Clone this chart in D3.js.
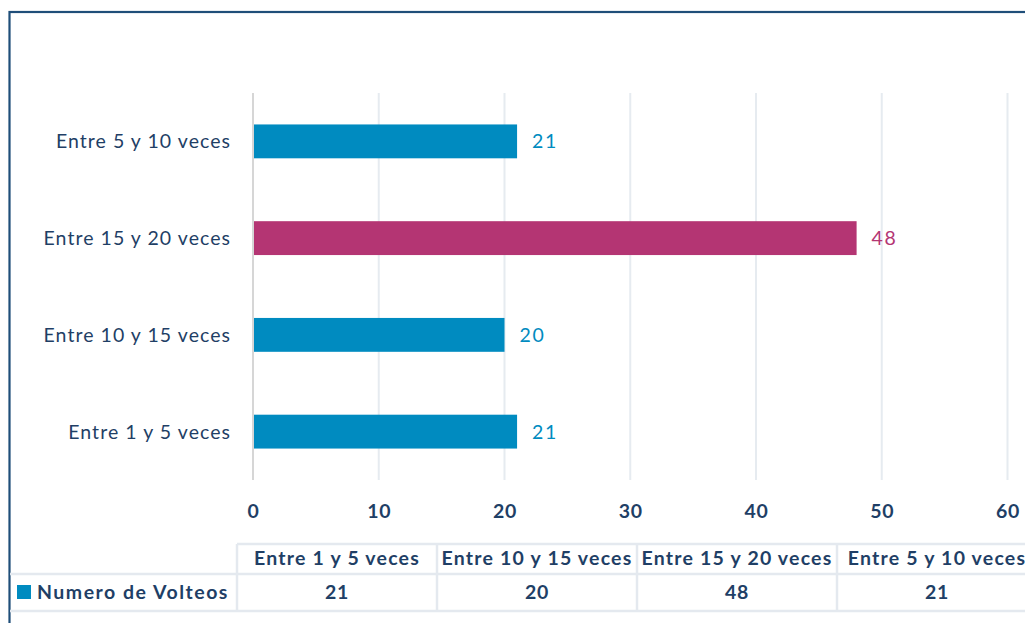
<!DOCTYPE html>
<html>
<head>
<meta charset="utf-8">
<script src="https://cdn.jsdelivr.net/npm/d3@7"></script>
<style>
  html, body { margin: 0; padding: 0; background: #fff; }
  svg { display: block; }
  text { font-family: Lato, "Open Sans", sans-serif; }
</style>
</head>
<body>
<svg id="chart" width="1025" height="623"></svg>
<script>
// Categories as drawn top-to-bottom on the bar chart
const categories = ["Entre 5 y 10 veces", "Entre 15 y 20 veces", "Entre 10 y 15 veces", "Entre 1 y 5 veces"];
const values = [21, 48, 20, 21];
// Order used by the data table under the chart
const tableCategories = ["Entre 1 y 5 veces", "Entre 10 y 15 veces", "Entre 15 y 20 veces", "Entre 5 y 10 veces"];
const seriesName = "Numero de Volteos";
const xTicks = [0, 10, 20, 30, 40, 50, 60];
const highlight = "Entre 15 y 20 veces";

const BLUE = "#008bc0", MAGENTA = "#b43573", NAVY = "#1f3f66";
const GRID = "#e6ebf0", TABLE_LINE = "#e4e9ef";

const svg = d3.select("#chart");
const valueOf = new Map(categories.map((c, i) => [c, values[i]]));

// Outer frame
svg.append("rect")
  .attr("x", 9.5).attr("y", 12)
  .attr("width", 1040).attr("height", 640)
  .attr("fill", "none").attr("stroke", "#1f4e79").attr("stroke-width", 2.2);

const x = d3.scaleLinear().domain([0, 60]).range([253, 1007.5]);
const y = d3.scaleBand().domain(categories).range([93, 480])
  .paddingInner(0.65).paddingOuter(0.325);

// Vertical gridlines
svg.append("g").selectAll("line").data(xTicks.filter(t => t > 0)).join("line")
  .attr("x1", d => x(d)).attr("x2", d => x(d))
  .attr("y1", 93).attr("y2", 480)
  .attr("stroke", GRID).attr("stroke-width", 2);

// Category axis line
svg.append("line")
  .attr("x1", x(0)).attr("x2", x(0)).attr("y1", 93).attr("y2", 480)
  .attr("stroke", "#d6d6d6").attr("stroke-width", 2);

// Bars
svg.append("g").selectAll("rect").data(categories).join("rect")
  .attr("x", x(0) + 1)
  .attr("y", d => y(d))
  .attr("width", d => x(valueOf.get(d)) - x(0) - 1)
  .attr("height", y.bandwidth())
  .attr("fill", d => d === highlight ? MAGENTA : BLUE);

// Value labels
svg.append("g").selectAll("text").data(categories).join("text")
  .attr("x", d => x(valueOf.get(d)) + 15)
  .attr("y", d => y(d) + y.bandwidth() / 2)
  .attr("dy", "0.36em")
  .attr("font-size", 19.5)
  .attr("letter-spacing", 1.6)
  .attr("fill", d => d === highlight ? MAGENTA : BLUE)
  .text(d => valueOf.get(d));

// Category labels
svg.append("g").selectAll("text").data(categories).join("text")
  .attr("x", 231)
  .attr("y", d => y(d) + y.bandwidth() / 2)
  .attr("dy", "0.36em")
  .attr("text-anchor", "end")
  .attr("font-size", 19.5)
  .attr("letter-spacing", 1.05)
  .attr("fill", NAVY)
  .text(d => d);

// Value axis labels
const xAxis = svg.append("g").attr("transform", "translate(0,511)")
  .call(d3.axisBottom(x).tickValues(xTicks).tickSize(0).tickPadding(0));
xAxis.select(".domain").remove();
xAxis.selectAll("text")
  .attr("dy", "0.36em")
  .attr("font-size", 19.5).attr("font-weight", "bold")
  .attr("letter-spacing", 0.6)
  .attr("fill", NAVY).attr("font-family", "Lato, sans-serif");

// Data table
const col = d3.scaleBand().domain(tableCategories).range([237, 1037]);
const rowTop = 544, rowMid = 574, rowBot = 611;
const table = svg.append("g");

table.append("line").attr("x1", 237).attr("x2", 1025).attr("y1", rowTop).attr("y2", rowTop)
  .attr("stroke", TABLE_LINE).attr("stroke-width", 2.5);
table.append("line").attr("x1", 10).attr("x2", 1025).attr("y1", rowMid).attr("y2", rowMid)
  .attr("stroke", TABLE_LINE).attr("stroke-width", 2.5);
table.append("line").attr("x1", 10).attr("x2", 1025).attr("y1", rowBot).attr("y2", rowBot)
  .attr("stroke", TABLE_LINE).attr("stroke-width", 2.5);

const colEdges = tableCategories.map(c => col(c));
table.selectAll("line.v").data(colEdges).join("line").attr("class", "v")
  .attr("x1", d => d).attr("x2", d => d)
  .attr("y1", rowTop).attr("y2", rowBot)
  .attr("stroke", TABLE_LINE).attr("stroke-width", 2.5);

table.selectAll("text.head").data(tableCategories).join("text").attr("class", "head")
  .attr("x", d => col(d) + col.bandwidth() / 2)
  .attr("y", (rowTop + rowMid) / 2 - 1)
  .attr("dy", "0.36em").attr("text-anchor", "middle")
  .attr("font-size", 19.5).attr("font-weight", "bold").attr("fill", NAVY)
  .attr("letter-spacing", 1.2)
  .text(d => d);

table.selectAll("text.val").data(tableCategories).join("text").attr("class", "val")
  .attr("x", d => col(d) + col.bandwidth() / 2)
  .attr("y", (rowMid + rowBot) / 2 - 1)
  .attr("dy", "0.36em").attr("text-anchor", "middle")
  .attr("font-size", 19.5).attr("font-weight", "bold").attr("fill", NAVY)
  .attr("letter-spacing", 0.8)
  .text(d => valueOf.get(d));

// Legend key and series name
table.append("rect").attr("x", 17).attr("y", 585).attr("width", 14).attr("height", 14).attr("fill", BLUE);
table.append("text").attr("x", 37).attr("y", (rowMid + rowBot) / 2 - 1)
  .attr("dy", "0.36em")
  .attr("font-size", 19.5).attr("font-weight", "bold").attr("fill", NAVY)
  .attr("letter-spacing", 1.5)
  .text(seriesName);
</script>
</body>
</html>
